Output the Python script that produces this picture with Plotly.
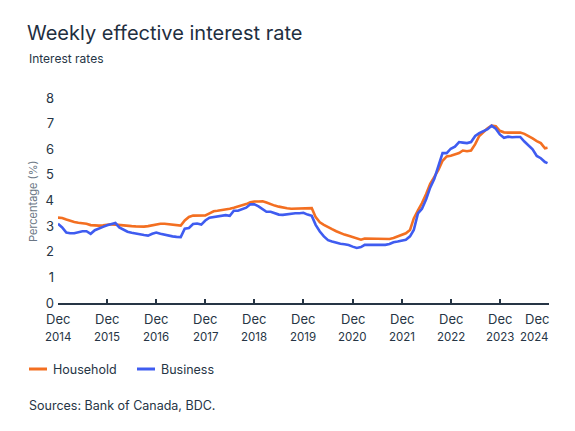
import pandas as pd
import plotly.graph_objects as go

# ---- data (monthly readings, Dec 2014 -> Nov 2024, plus final reading) ----
dates = list(pd.date_range("2014-12-01", periods=120, freq="MS")) + [pd.Timestamp("2024-11-20")]

household = [
    3.33, 3.32, 3.26, 3.20, 3.16, 3.13, 3.11, 3.09, 3.04, 3.02, 3.02, 3.03,
    3.06, 3.07, 3.06, 3.04, 3.03, 3.02, 3.00, 2.99, 2.98, 2.98, 3.00, 3.03,
    3.07, 3.09, 3.09, 3.08, 3.06, 3.04, 3.02, 3.22, 3.36, 3.41, 3.41, 3.40,
    3.42, 3.50, 3.58, 3.60, 3.62, 3.65, 3.68, 3.72, 3.77, 3.80, 3.86, 3.93,
    3.96, 3.96, 3.97, 3.92, 3.85, 3.80, 3.76, 3.72, 3.70, 3.68, 3.68, 3.70,
    3.70, 3.70, 3.70, 3.35, 3.15, 3.05, 2.95, 2.88, 2.80, 2.72, 2.67, 2.62,
    2.57, 2.52, 2.47, 2.52, 2.52, 2.52, 2.52, 2.52, 2.51, 2.50, 2.54, 2.60,
    2.68, 2.72, 2.85, 3.30, 3.62, 3.90, 4.25, 4.65, 4.92, 5.20, 5.55, 5.72,
    5.75, 5.80, 5.85, 5.95, 5.92, 5.95, 6.20, 6.52, 6.68, 6.82, 6.92, 6.90,
    6.72, 6.66, 6.65, 6.65, 6.65, 6.65, 6.60, 6.52, 6.42, 6.32, 6.24, 6.04,
    6.06,
]

business = [
    3.09, 2.95, 2.75, 2.72, 2.72, 2.76, 2.80, 2.80, 2.70, 2.84, 2.92, 2.97,
    3.03, 3.08, 3.12, 2.95, 2.85, 2.78, 2.74, 2.70, 2.68, 2.65, 2.63, 2.70,
    2.75, 2.70, 2.66, 2.64, 2.60, 2.58, 2.57, 2.90, 2.93, 3.08, 3.10, 3.06,
    3.22, 3.33, 3.35, 3.37, 3.40, 3.43, 3.40, 3.60, 3.60, 3.65, 3.72, 3.85,
    3.85, 3.77, 3.66, 3.56, 3.56, 3.50, 3.45, 3.44, 3.47, 3.50, 3.50, 3.50,
    3.52, 3.45, 3.40, 3.05, 2.79, 2.60, 2.45, 2.40, 2.34, 2.31, 2.29, 2.26,
    2.20, 2.15, 2.18, 2.27, 2.27, 2.27, 2.27, 2.26, 2.27, 2.30, 2.37, 2.40,
    2.42, 2.47, 2.60, 2.85, 3.50, 3.68, 4.05, 4.50, 4.85, 5.40, 5.85, 5.85,
    6.02, 6.10, 6.28, 6.26, 6.24, 6.28, 6.52, 6.63, 6.69, 6.78, 6.92, 6.80,
    6.58, 6.45, 6.49, 6.47, 6.48, 6.48, 6.30, 6.16, 6.00, 5.74, 5.65, 5.50,
    5.46,
]

series_names = ["Household", "Business"]
tick_years = [2014, 2015, 2016, 2017, 2018, 2019, 2020, 2021, 2022, 2023, 2024]
tick_month = "Dec"
y_ticks = [0, 1, 2, 3, 4, 5, 6, 7, 8]

title_text = "Weekly effective interest rate"
subtitle_text = "Interest rates"
y_title = "Percentage (%)"
source_text = "Sources: Bank of Canada, BDC."

# ---- styling ----
FONT = "Inter, Lato, sans-serif"
DARK = "#263545"
GREY = "#6a7684"
ORANGE = "#F36F21"
BLUE = "#3F5CF0"
COLORS = [ORANGE, BLUE]

W, H = 575, 431
ML, MR, MT, MB = 58, 26, 98, 128
PW, PH = W - ML - MR, H - MT - MB


def px_x(px):
    """canvas pixel x -> paper x"""
    return (px - ML) / PW


def px_y(py):
    """canvas pixel y (from top) -> paper y"""
    return (H - MB - py) / PH


fig = go.Figure()
for name, vals, col in zip(series_names, [household, business], COLORS):
    fig.add_trace(go.Scatter(x=dates, y=vals, mode="lines", name=name,
                             line=dict(color=col, width=2.6), hoverinfo="skip"))

tick_dates = [pd.Timestamp(f"{y}-12-01") for y in tick_years]

fig.update_layout(
    width=W, height=H,
    margin=dict(l=ML, r=MR, t=MT, b=MB),
    paper_bgcolor="white", plot_bgcolor="white",
    font=dict(family=FONT, color=DARK),
    title=dict(text=title_text, x=27 / W, xanchor="left", xref="container",
               y=1 - 33 / H, yanchor="middle", yref="container",
               font=dict(size=20, color="#1f2f3f", family=FONT)),
    showlegend=False,
    xaxis=dict(range=[tick_dates[0], tick_dates[-1]], showgrid=False, zeroline=False,
               showline=True, linecolor=DARK, linewidth=2,
               tickvals=tick_dates, ticks="inside", ticklen=4, tickwidth=1.5,
               tickcolor=DARK, showticklabels=False, fixedrange=True),
    yaxis=dict(range=[0, 8], showgrid=False, zeroline=False, showline=False,
               tickvals=y_ticks, ticks="", tickfont=dict(size=13, color=DARK),
               ticklabelstandoff=3, fixedrange=True),
)

annotations = []
for i, (d, yr) in enumerate(zip(tick_dates, tick_years)):
    last = i == len(tick_dates) - 1
    anchor = "right" if last else "center"
    xs = 2 if last else 0
    annotations.append(dict(x=d, y=0, xref="x", yref="paper", text=tick_month,
                            showarrow=False, xanchor=anchor, yanchor="middle",
                            xshift=xs, yshift=-(319 - (H - MB)),
                            font=dict(size=13, color=DARK, family=FONT)))
    annotations.append(dict(x=d, y=0, xref="x", yref="paper", text=str(yr),
                            showarrow=False, xanchor=anchor, yanchor="middle",
                            xshift=xs, yshift=-(337 - (H - MB)),
                            font=dict(size=11.5, color=DARK, family=FONT)))

annotations.append(dict(x=px_x(27), y=px_y(58), xref="paper", yref="paper",
                        text=subtitle_text, showarrow=False, xanchor="left",
                        yanchor="middle", font=dict(size=12, color=DARK, family=FONT)))
annotations.append(dict(x=px_x(27), y=px_y(405), xref="paper", yref="paper",
                        text=source_text, showarrow=False, xanchor="left",
                        yanchor="middle", font=dict(size=12.5, color=DARK, family=FONT)))
annotations.append(dict(x=px_x(33), y=px_y(202), xref="paper", yref="paper",
                        text=y_title, textangle=-90, showarrow=False,
                        xanchor="center", yanchor="middle",
                        font=dict(size=11, color=GREY, family=FONT)))

# legend (swatch + label), laid out like the original
shapes = []
legend_starts = [29, 137]
for name, col, x0 in zip(series_names, COLORS, legend_starts):
    shapes.append(dict(type="line", xref="paper", yref="paper",
                       x0=px_x(x0), x1=px_x(x0 + 18), y0=px_y(369), y1=px_y(369),
                       line=dict(color=col, width=3)))
    annotations.append(dict(x=px_x(x0 + 22), y=px_y(369), xref="paper", yref="paper",
                            text=name, showarrow=False, xanchor="left",
                            yanchor="middle",
                            font=dict(size=12.5, color=DARK, family=FONT)))

fig.update_layout(annotations=annotations, shapes=shapes)
fig.write_html("out.html", config={"displayModeBar": False},
               post_script="document.body.style.margin='0';")
